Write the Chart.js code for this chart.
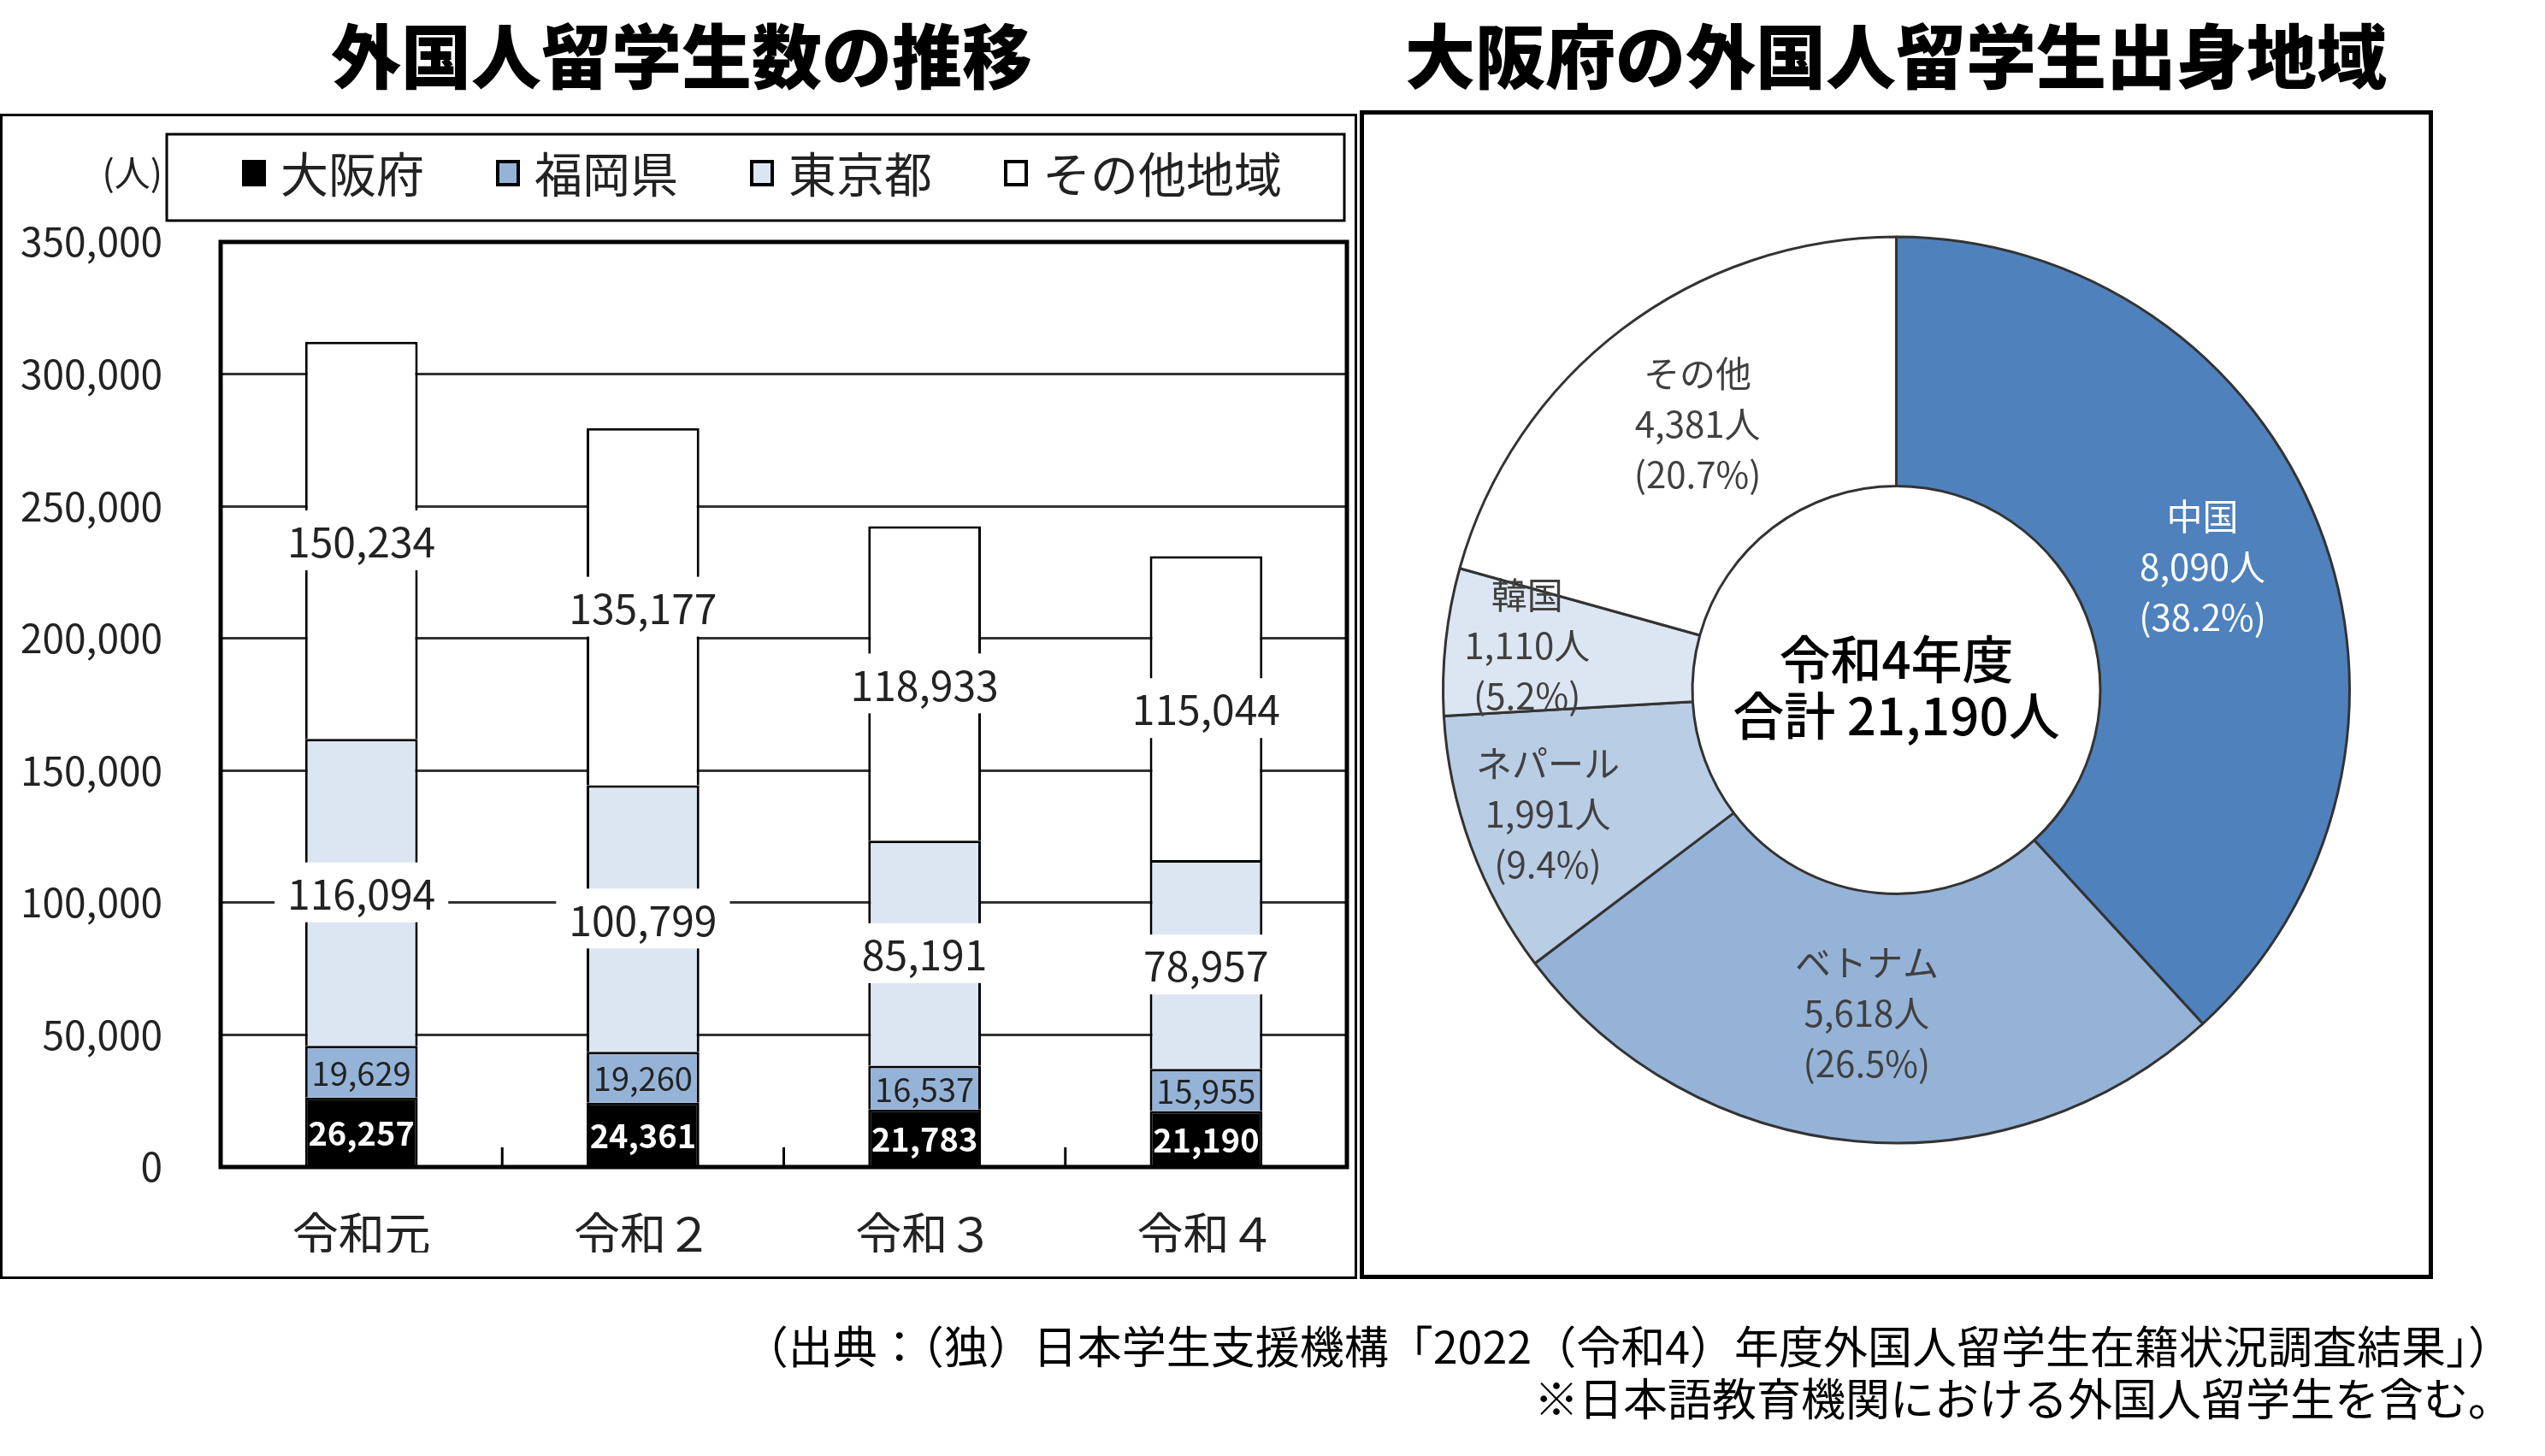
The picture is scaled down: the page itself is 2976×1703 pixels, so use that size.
<!DOCTYPE html>
<html lang="ja">
<head>
<meta charset="utf-8">
<script src="https://cdn.jsdelivr.net/npm/chart.js@4.4.0/dist/chart.umd.min.js"></script>
<style>
  html, body { margin: 0; padding: 0; background: #fff; }
  body { width: 2976px; height: 1703px; position: relative; overflow: hidden; font-family: "Noto Sans CJK JP", sans-serif; color: #000; }
  .title { position: absolute; top: 14px; font-size: 82px; font-weight: 900; line-height: 96px; white-space: nowrap; transform: translateX(-50%); }
  #leftPanel { position: absolute; left: 0; top: 133px; width: 1581px; height: 1357px; border: 3px solid #000; }
  #rightPanel { position: absolute; left: 1590px; top: 129px; width: 1245px; height: 1357px; border: 5px solid #000; }
  .note { position: absolute; right: 38px; font-size: 52px; line-height: 60px; white-space: nowrap; }
  canvas { display: block; }
</style>
</head>
<body>
<div class="title" style="left:797px">外国人留学生数の推移</div>
<div class="title" style="left:2217px">大阪府の外国人留学生出身地域</div>
<div id="leftPanel"><canvas id="bars" width="1581" height="1357"></canvas></div>
<div id="rightPanel"><canvas id="pie" width="1245" height="1357"></canvas></div>
<div class="note" style="top:1543px">（出典：（独）日本学生支援機構「2022（令和4）年度外国人留学生在籍状況調査結果」）</div>
<div class="note" style="top:1604px">※日本語教育機関における外国人留学生を含む。</div>

<script>
// 年度と地域別の留学生数
const years = ['令和元', '令和２', '令和３', '令和４'];
const regions = ['大阪府', '福岡県', '東京都', 'その他地域'];
const osaka = [26257, 24361, 21783, 21190];
const fukuoka = [19629, 19260, 16537, 15955];
const tokyo = [116094, 100799, 85191, 78957];
const others = [150234, 135177, 118933, 115044];
const yMax = 350000;
const yStep = 50000;

// 大阪府の出身地域（令和4年度）
const pieTitle = '令和4年度';
const countries = ['中国', 'ベトナム', 'ネパール', '韓国', 'その他'];
const countryCounts = [8090, 5618, 1991, 1110, 4381];

Chart.defaults.font.family = '"Noto Sans CJK JP", sans-serif';
Chart.defaults.animation = false;

const fmt = v => v.toLocaleString('en-US');
const FONT = '"Noto Sans CJK JP", sans-serif';

// 凡例（枠付き）と（人）
const legendBox = {
    id: 'legendBox',
    afterDraw(chart) {
        const ctx = chart.ctx;
        const area = chart.chartArea;
        const left = area.left - 63, right = area.right - 3, top = 21, bottom = 122;
        ctx.save();
        ctx.strokeStyle = '#000';
        ctx.lineWidth = 3;
        ctx.strokeRect(left, top, right - left, bottom - top);
        ctx.font = '56px ' + FONT;
        ctx.textBaseline = 'middle';
        ctx.textAlign = 'left';
        const cy = 66;
        let x = left + 90;
        chart.data.datasets.forEach(ds => {
            ctx.fillStyle = ds.backgroundColor;
            ctx.fillRect(x, cy - 13, 24, 27);
            ctx.lineWidth = 4;
            ctx.strokeStyle = '#000';
            ctx.strokeRect(x, cy - 13, 24, 27);
            ctx.fillStyle = '#222';
            ctx.fillText(ds.label, x + 43, cy + 2);
            x += 43 + ctx.measureText(ds.label).width + 86;
        });
        ctx.font = '42px ' + FONT;
        ctx.textAlign = 'right';
        ctx.fillStyle = '#222';
        ctx.fillText('(人)', area.left - 68, cy);
        ctx.restore();
    }
};

// 枠線、区切り目盛り、数値ラベル
const barDecor = {
    id: 'barDecor',
    afterDatasetsDraw(chart) {
        const ctx = chart.ctx;
        const area = chart.chartArea;
        const xs = chart.scales.x;
        ctx.save();
        ctx.strokeStyle = '#000';
        ctx.lineWidth = 5;
        ctx.strokeRect(area.left, area.top, area.right - area.left, area.bottom - area.top);
        ctx.lineWidth = 3;
        for (let i = 0; i < years.length - 1; i++) {
            const bx = (xs.getPixelForValue(i) + xs.getPixelForValue(i + 1)) / 2;
            ctx.beginPath();
            ctx.moveTo(bx, area.bottom);
            ctx.lineTo(bx, area.bottom - 23);
            ctx.stroke();
        }

        ctx.textAlign = 'center';
        ctx.textBaseline = 'middle';
        chart.data.datasets.forEach((ds, di) => {
            const meta = chart.getDatasetMeta(di);
            meta.data.forEach((bar, i) => {
                const p = bar.getProps(['x', 'y', 'base'], true);
                const cy = (p.y + p.base) / 2;
                const txt = fmt(ds.data[i]);
                if (di === 0) {
                    ctx.font = 'bold 38px ' + FONT;
                    ctx.fillStyle = '#fff';
                } else if (di === 1) {
                    ctx.font = '38px ' + FONT;
                    ctx.fillStyle = '#222';
                } else {
                    ctx.font = '48px ' + FONT;
                    const w = ctx.measureText(txt).width + 30;
                    ctx.fillStyle = '#fff';
                    ctx.fillRect(p.x - w / 2, cy - 35, w, 70);
                    ctx.fillStyle = '#222';
                }
                ctx.fillText(txt, p.x, cy + 2);
            });
        });
        ctx.restore();
    }
};

new Chart(document.getElementById('bars'), {
    type: 'bar',
    data: {
        labels: years,
        datasets: [
            { label: regions[0], data: osaka, backgroundColor: '#000000' },
            { label: regions[1], data: fukuoka, backgroundColor: '#95b3d7' },
            { label: regions[2], data: tokyo, backgroundColor: '#dce6f2' },
            { label: regions[3], data: others, backgroundColor: '#ffffff' }
        ]
    },
    options: {
        responsive: false,
        layout: { padding: { top: 147, left: 5, right: 9, bottom: 28 } },
        datasets: {
            bar: { borderColor: '#000', borderWidth: 3, categoryPercentage: 1, barPercentage: 0.4 }
        },
        plugins: { legend: { display: false }, tooltip: { enabled: false } },
        scales: {
            x: {
                stacked: true,
                grid: { display: false },
                border: { display: false },
                ticks: { font: { size: 54 }, color: '#222', padding: 38 },
                afterFit: s => { s.height = 100; }
            },
            y: {
                stacked: true,
                min: 0,
                max: yMax,
                grid: { color: '#333', lineWidth: 3, drawTicks: false },
                border: { display: false },
                ticks: { stepSize: yStep, font: { size: 46 }, color: '#222', padding: 68, callback: v => fmt(v) },
                afterFit: s => { s.width = 250; }
            }
        }
    },
    plugins: [legendBox, barDecor]
});

// ドーナツのラベルと中央の合計
const pieLabels = {
    id: 'pieLabels',
    afterDatasetsDraw(chart) {
        const ctx = chart.ctx;
        const meta = chart.getDatasetMeta(0);
        const total = countryCounts.reduce((a, b) => a + b, 0);
        ctx.save();
        ctx.textAlign = 'center';
        ctx.textBaseline = 'middle';
        let cx = 0, cy = 0;
        meta.data.forEach((arc, i) => {
            const p = arc.getProps(['x', 'y', 'startAngle', 'endAngle', 'innerRadius', 'outerRadius'], true);
            cx = p.x; cy = p.y;
            const share = countryCounts[i] / total;
            const mid = (p.startAngle + p.endAngle) / 2;
            const r = (p.innerRadius + p.outerRadius) / 2 + (share < 0.1 ? 50 : 0);
            const lx = p.x + Math.cos(mid) * r;
            const ly = p.y + Math.sin(mid) * r;
            const lines = [countries[i], fmt(countryCounts[i]) + '人', '(' + (share * 100).toFixed(1) + '%)'];
            ctx.font = '42px ' + FONT;
            ctx.fillStyle = i === 0 ? '#ffffff' : '#404040';
            lines.forEach((t, k) => ctx.fillText(t, lx, ly + (k - 1) * 59 - 5));
        });
        ctx.font = '500 60px ' + FONT;
        ctx.fillStyle = '#000';
        ctx.fillText(pieTitle, cx, cy - 36);
        ctx.fillText('合計 ' + fmt(total) + '人', cx, cy + 30);
        ctx.restore();
    }
};

new Chart(document.getElementById('pie'), {
    type: 'doughnut',
    data: {
        labels: countries,
        datasets: [{
            data: countryCounts,
            backgroundColor: ['#4f81bd', '#95b3d7', '#b9cde5', '#dce6f2', '#ffffff'],
            borderColor: '#333',
            borderWidth: 3
        }]
    },
    options: {
        responsive: false,
        radius: 530,
        cutout: '45%',
        layout: { padding: { bottom: 11 } },
        plugins: { legend: { display: false }, tooltip: { enabled: false } }
    },
    plugins: [pieLabels]
});
</script>
</body>
</html>
